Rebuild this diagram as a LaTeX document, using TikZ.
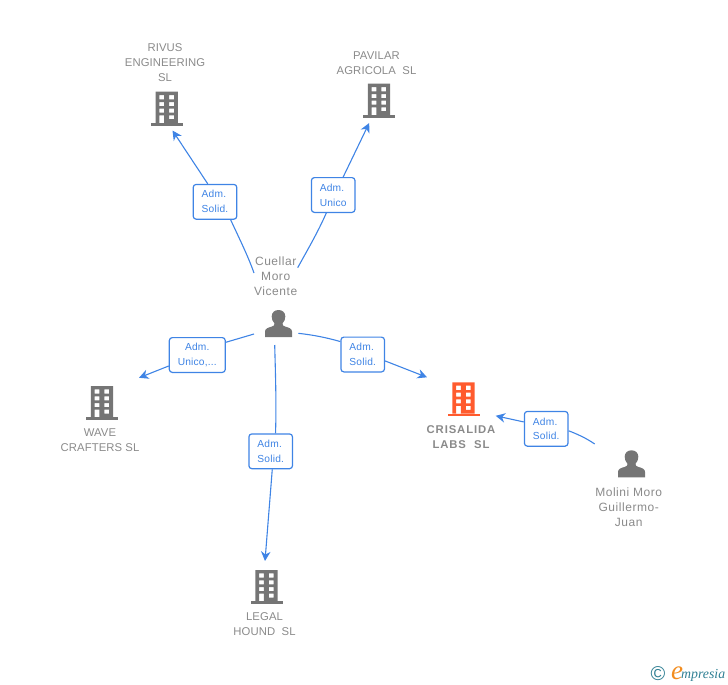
\documentclass[tikz,border=0pt]{standalone}
\usepackage{fontspec}
\setmainfont{Liberation Sans}
\newfontfamily\logofont{Liberation Serif}
\usetikzlibrary{arrows.meta}
\definecolor{linkblue}{HTML}{3F84E5}
\definecolor{icongray}{HTML}{757575}
\definecolor{labelgray}{HTML}{8A8A8A}
\definecolor{hotorange}{HTML}{FF5B2E}
\definecolor{logoteal}{HTML}{2F7F93}
\definecolor{logoorange}{HTML}{F28C1E}
\tikzset{
  x=1pt,y=-1pt,
  role/.style={draw=linkblue,line width=1.2pt,rounded corners=3pt,fill=white,text=linkblue,inner sep=0pt,
    minimum height=34.8pt,font=\fontsize{10.2}{14.9}\selectfont\addfontfeature{LetterSpace=2},align=left},
  roletwo/.style={role,minimum width=43.6pt},
  rolewide/.style={role,minimum width=56pt,align=center},
  entname/.style={text=labelgray,inner sep=0pt,align=center,font=\fontsize{11.3}{15}\selectfont\addfontfeature{LetterSpace=1}},
  persname/.style={text=labelgray,inner sep=0pt,align=center,font=\fontsize{12}{15}\selectfont\addfontfeature{LetterSpace=4.5}},
  mainname/.style={text=labelgray,inner sep=0pt,align=center,font=\fontsize{11.3}{15}\selectfont\bfseries\addfontfeature{LetterSpace=8}},
  link/.style={draw=linkblue,line width=1.1pt},
  linkarrow/.style={link,-{Stealth[length=9.5pt,width=9.5pt,inset=3pt]}},
  bldg/.pic={
    \fill[even odd rule,pic actions]
      (-11.1,-34) rectangle (11.1,-2.7)
      (-7.4,-30.7) rectangle (-2.7,-26.3) (2.4,-30.7) rectangle (7.2,-26.3)
      (-7.4,-23.6) rectangle (-2.7,-19.6) (2.4,-23.6) rectangle (7.2,-19.6)
      (-7.4,-17) rectangle (-2.7,-13) (2.4,-17) rectangle (7.2,-13)
      (-7.4,-10.4) rectangle (-2.7,-2.7) (2.4,-10.4) rectangle (7.2,-6.5);
    \fill[pic actions] (-16,-2.7) rectangle (16,0);
  },
  prsn/.pic={
    \fill[pic actions] (-13.5,0) -- (-13.5,-5.5) .. controls (-13.5,-8.5) and (-10,-9.5) .. (-6.5,-10.5)
      .. controls (-4.5,-11) and (-4,-12) .. (-4,-13.5)
      .. controls (-6,-15.5) and (-6.8,-18) .. (-6.8,-20.5)
      .. controls (-6.8,-24.5) and (-4,-27) .. (0,-27)
      .. controls (4,-27) and (6.8,-24.5) .. (6.8,-20.5)
      .. controls (6.8,-18) and (6,-15.5) .. (4,-13.5)
      .. controls (4,-12) and (4.5,-11) .. (6.5,-10.5)
      .. controls (10,-9.5) and (13.5,-8.5) .. (13.5,-5.5) -- (13.5,0) -- cycle;
  }
}
\begin{document}
\begin{tikzpicture}
\useasboundingbox (0,0) rectangle (728,685);
% icons
\path (166.8,125.7) pic[fill=icongray] {bldg};
\path (379,117.7) pic[fill=icongray] {bldg};
\path (102,420) pic[fill=icongray] {bldg};
\path (266.5,604) pic[fill=icongray] {bldg};
\path (463.5,416.3) pic[fill=hotorange] {bldg};
\path (278.5,337) pic[fill=icongray] {prsn};
\path (631.5,477.3) pic[fill=icongray] {prsn};
% labels
\node[entname] (rivus) at (165,63) {RIVUS\\ENGINEERING\\SL};
\node[entname] (pavilar) at (376.5,63.5) {PAVILAR\\AGRICOLA\ \ SL};
\node[persname] (cuellar) at (275.7,276.7) {Cuellar\\Moro\\Vicente};
\node[entname] (wave) at (100,440.5) {WAVE\\CRAFTERS SL};
\node[entname] (legal) at (264.5,624.5) {LEGAL\\HOUND\ \ SL};
\node[mainname] (crisalida) at (461,436.8) {CRISALIDA\\LABS\ \ SL};
\node[persname] (molini) at (628.7,507.5) {Molini Moro\\Guillermo-\\Juan};
% role boxes
\node[roletwo] (b1) at (215,201.8) {Adm.\\Solid.};
\node[roletwo] (b2) at (333.2,195) {Adm.\\Unico};
\node[rolewide] (b3) at (197.3,355) {Adm.\\Unico,...};
\node[roletwo] (b4) at (362.7,354.5) {Adm.\\Solid.};
\node[roletwo] (b5) at (270.7,451.3) {Adm.\\Solid.};
\node[roletwo] (b6) at (546.2,428.8) {Adm.\\Solid.};
% free ends
\coordinate (s1) at (254,273);
\coordinate (s2) at (297.7,267.7);
\coordinate (s3) at (254,334);
\coordinate (s4) at (298.3,333.3);
\coordinate (s5) at (274.7,345);
\coordinate (s6) at (594.7,444);
\coordinate (e1) at (172.5,130.5);
\coordinate (e2) at (369.2,123);
\coordinate (e3) at (139,377.8);
\coordinate (e4) at (427,377.3);
\coordinate (e5) at (265,561);
\coordinate (e6) at (495.7,415.8);
% connectors
\draw[link] (s1) .. controls (248,256) and (240,240) .. (b1.-49.4);
\draw[linkarrow] (b1.112.6) -- (e1);
\draw[link] (s2) .. controls (308,249) and (318,232) .. (b2.249.4);
\draw[linkarrow] (b2.61.2) -- (e2);
\draw[link] (s3) -- (b3.24.9);
\draw[linkarrow] (b3.201.4) -- (e3);
\draw[link] (s4) .. controls (314,335) and (328,338) .. (b4.150.4);
\draw[linkarrow] (b4.-16.5) -- (e4);
\draw[link] (s5) .. controls (275.5,375) and (276.5,405) .. (b5.75.1);
\draw[linkarrow] (b5.-85.7) -- (e5);
\draw[link] (s6) .. controls (586,438) and (577,434) .. (b6.-5);
\draw[linkarrow] (b6.163.5) -- (e6);
% logo
\node[inner sep=0pt,text=logoteal,font=\fontsize{20}{20}\selectfont] (copyr) at (658,674) {©};
\node[inner sep=0pt,text=logoorange,font=\logofont\itshape\fontsize{27}{27}\selectfont] (logoe) at (677,673.5) {e};
\node[inner sep=0pt,anchor=base west,text=logoteal,font=\logofont\itshape\fontsize{13.8}{14}\selectfont] (logot) at (681,678) {mpresia};
\end{tikzpicture}
\end{document}
